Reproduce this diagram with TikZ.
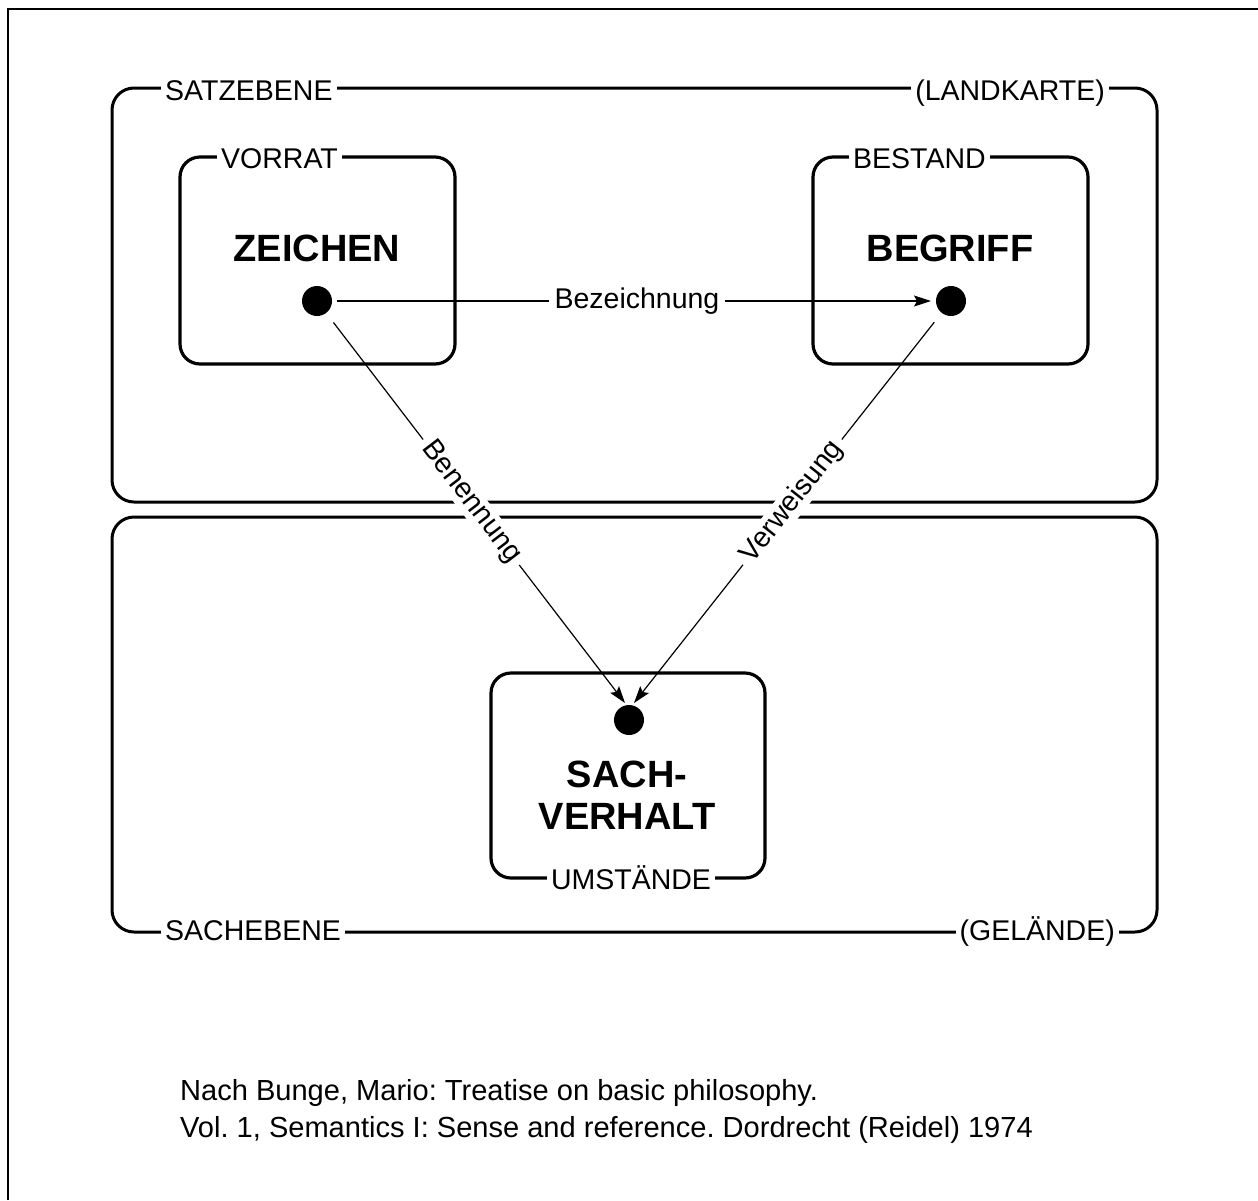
\documentclass[tikz,border=0pt]{standalone}
\usepackage{fontspec}
\setmainfont{Liberation Sans}
\usetikzlibrary{arrows.meta}
\frenchspacing
\begin{document}
\begin{tikzpicture}[x=1pt,y=-1pt,
  txt/.style={font=\fontsize{28.5}{34}\selectfont},
  note/.style={font=\fontsize{29.05}{36}\selectfont},
  big/.style={font=\bfseries\fontsize{38}{42}\selectfont},
  level/.style={draw, line width=3pt, rounded corners=22pt, minimum width=1045pt, inner sep=0pt},
  stock/.style={draw, line width=3.2pt, rounded corners=20pt, minimum width=275pt, minimum height=207pt, inner sep=0pt},
  tag/.style={txt, fill=white, inner xsep=4pt, inner ysep=2pt},
  dot/.style={circle, fill=black, minimum size=30pt, inner sep=0pt, outer sep=5pt},
  conn/.style={line width=1.2pt, -{Stealth[length=17pt,width=11pt,inset=3pt]}},
  lbl/.style={txt, fill=white, inner xsep=6pt, inner ysep=1pt},
]
\useasboundingbox (0,0) rectangle (1258,1200);

% page frame
\draw[line width=2.5pt] (8,1200) -- (8,9) -- (1258,9);

% the two levels
\node[level, minimum height=414pt] (satz) at (634.5,295) {};
\node[level, minimum height=415pt] (sach) at (634.5,724.5) {};

% the three boxes
\node[stock] (zbox) at (317.5,260.5) {};
\node[stock] (bbox) at (950.5,260.5) {};
\node[stock, minimum width=274pt, minimum height=205pt] (sbox) at (628,775.5) {};

% names set into the borders
\node[tag, anchor=base west] (satzname) at (161,100) {SATZEBENE};
\node[tag, anchor=base east] (karte) at (1109,100) {(LANDKARTE)};
\node[tag, anchor=base west] (sachname) at (161,940) {SACHEBENE};
\node[tag, anchor=base east] (gelaende) at (1119,940) {(GELÄNDE)};
\node[tag, anchor=base west] (vorrat) at (217,168) {VORRAT};
\node[tag, anchor=base west] (bestand) at (849,168) {BESTAND};
\node[tag, anchor=base] (umst) at (631,889) {UMSTÄNDE};

% box titles
\node[big, anchor=base] (zeichen) at (317,261) {ZEICHEN};
\node[big, anchor=base] (begriff) at (950,261) {BEGRIFF};
\node[big, align=center] (sachverhalt) at (627,795) {SACH-\\VERHALT};

% points and relations
\node[dot] (zd) at (317,301) {};
\node[dot] (bd) at (951,301) {};
\node[dot] (sd) at (629,720) {};
\coordinate (sl) at (625,703);
\coordinate (sr) at (634,703);

\draw[conn] (zd) -- node[lbl, pos=0.505] (bez) {Bezeichnung} (bd);
\draw[conn, shorten <=7pt] (zd) -- node[lbl, sloped, pos=0.48] (benn) {Benennung} (sl);
\draw[conn, shorten <=7pt] (bd) -- node[lbl, sloped, pos=0.48] (verw) {Verweisung} (sr);

% source
\node[note, anchor=base west, inner sep=0pt] (ref1) at (180,1100) {Nach Bunge, Mario: Treatise on basic philosophy.};
\node[note, anchor=base west, inner sep=0pt] (ref2) at (180,1137) {Vol. 1, Semantics I: Sense and reference. Dordrecht (Reidel) 1974};
\end{tikzpicture}
\end{document}
